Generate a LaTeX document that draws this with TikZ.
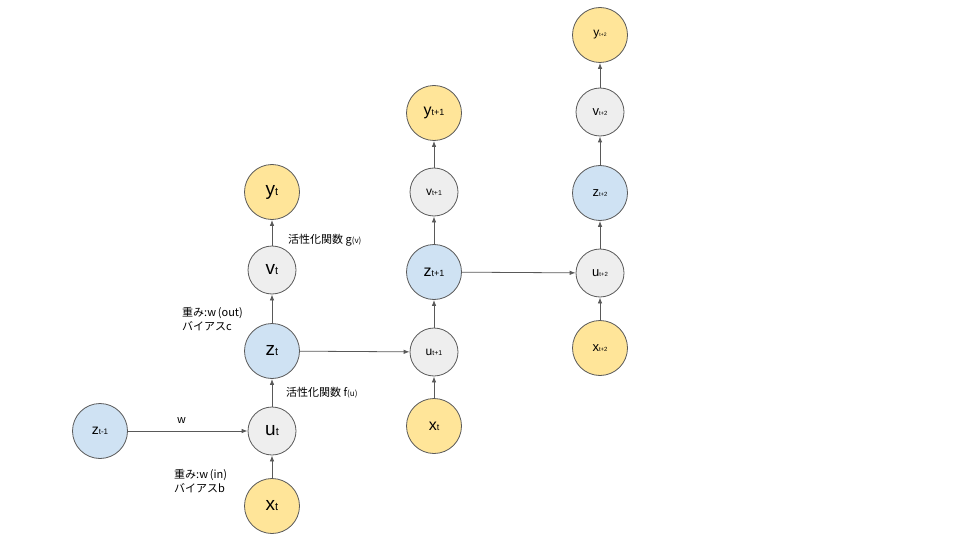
\documentclass[tikz,border=0pt]{standalone}
\usepackage{fontspec}
\setmainfont{Liberation Sans}
\newfontfamily\jpfont{Noto Sans CJK JP}
\usetikzlibrary{arrows.meta}
\definecolor{cellyellow}{HTML}{FFE599}
\definecolor{cellblue}{HTML}{CFE2F3}
\definecolor{cellgray}{HTML}{EEEEEE}
\definecolor{edgegray}{HTML}{595959}
\newcommand{\vlab}[4]{{\fontsize{#1}{#1}\selectfont #2}{\fontsize{#3}{#3}\selectfont #4}}
\tikzset{
  cell/.style={circle, draw=edgegray, line width=0.8pt, inner sep=0pt},
  outcell/.style={cell, fill=cellyellow, minimum size=55pt},
  incell/.style={cell, fill=cellyellow, minimum size=55pt},
  hidcell/.style={cell, fill=cellblue, minimum size=55pt},
  sumcell/.style={cell, fill=cellgray, minimum size=48pt},
  link/.style={->, draw=edgegray, line width=0.8pt},
  note/.style={anchor=west, inner sep=0pt, align=left, font=\fontsize{11}{14}\jpfont},
}
\begin{document}
\begin{tikzpicture}[x=1pt, y=-1pt, >={Latex[length=6pt,width=4.5pt]}]
    \useasboundingbox (0,0) rectangle (960,540);
    % time t
    \node[outcell] (yt) at (272,192) {\vlab{19}{y}{11}{t}};
    \node[sumcell] (vt) at (272,270) {\vlab{19}{v}{11}{t}};
    \node[hidcell] (zt) at (272,351) {\vlab{19}{z}{11}{t}};
    \node[sumcell] (ut) at (272,431) {\vlab{19}{u}{11}{t}};
    \node[incell] (xt) at (272,506) {\vlab{19}{x}{11}{t}};
    \node[hidcell] (zprev) at (100,431) {\vlab{14}{z}{8}{t-1}};
    % time t+1
    \node[outcell] (ynext) at (434,113) {\vlab{16}{y}{9}{t+1}};
    \node[sumcell] (vnext) at (434,192) {\vlab{12}{v}{7}{t+1}};
    \node[hidcell] (znext) at (434,272) {\vlab{16}{z}{9}{t+1}};
    \node[sumcell] (unext) at (434,352) {\vlab{12}{u}{7}{t+1}};
    \node[incell] (xnext) at (434,426) {\vlab{16}{x}{9}{t}};
    % time t+2
    \node[outcell] (ylast) at (600,35) {\vlab{12}{y}{5}{t+2}};
    \node[sumcell] (vlast) at (600,112) {\vlab{13}{v}{6}{t+2}};
    \node[hidcell] (zlast) at (600,193) {\vlab{13}{z}{6}{t+2}};
    \node[sumcell] (ulast) at (600,273) {\vlab{13}{u}{6}{t+2}};
    \node[incell] (xlast) at (600,348) {\vlab{13}{x}{6}{t+2}};
    % labels
    \node[note] (gact) at (288,240) {活性化関数 g{\fontsize{8}{8}\selectfont(v)}};
    \node[note] (wout) at (182,319) {重み:w\,(out)\\バイアスc};
    \node[note] (fact) at (286,393) {活性化関数 f{\fontsize{8}{8}\selectfont(u)}};
    \node[note] (wrec) at (177,421) {w};
    \node[note] (win) at (174,481) {重み:w\,(in)\\バイアスb};
    % connectors
    \draw[link] (xt) -- (ut);
    \draw[link] (ut) -- (zt);
    \draw[link] (zt) -- (vt);
    \draw[link] (vt) -- (yt);
    \draw[link] (zprev) -- (ut);
    \draw[link] (zt) -- (unext);
    \draw[link] (xnext) -- (unext);
    \draw[link] (unext) -- (znext);
    \draw[link] (znext) -- (vnext);
    \draw[link] (vnext) -- (ynext);
    \draw[link] (znext) -- (ulast);
    \draw[link] (xlast) -- (ulast);
    \draw[link] (ulast) -- (zlast);
    \draw[link] (zlast) -- (vlast);
    \draw[link] (vlast) -- (ylast);
\end{tikzpicture}
\end{document}
